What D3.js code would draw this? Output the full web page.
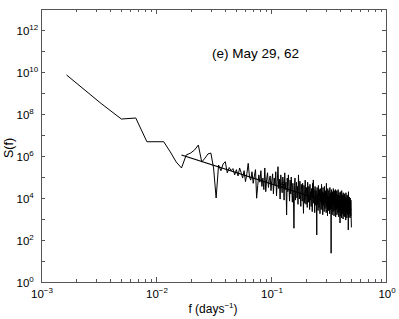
<!DOCTYPE html>
<html>
<head>
<meta charset="utf-8">
<script src="https://cdn.jsdelivr.net/npm/d3@7"></script>
<style>
  body { margin: 0; background: #fff; }
  text { font-family: "Liberation Sans", Arial, sans-serif; fill: #000; }
</style>
</head>
<body>
<svg id="chart" width="399" height="319"></svg>
<script>
// Record length in days, frequencies are k / recordDays
const recordDays = 600

// log10 of the power spectrum S(f), one value per frequency k = 1..300
const logPower = [
  9.86, 8.50, 7.76, 7.81, 6.68, 6.68, 6.68, 6.19, 5.71, 5.43,
  6.05, 6.14, 6.29, 6.52, 5.71, 5.90, 6.10, 6.14, 5.43, 4.00,
  5.57, 5.30, 5.62, 5.73, 5.20, 5.45, 5.30, 5.40, 5.10, 5.35,
  5.05, 5.43, 5.20, 4.95, 5.30, 4.78, 5.15, 5.65, 5.00, 4.85,
  5.25, 4.70, 5.05, 5.35, 3.99, 4.60, 5.10, 4.75, 5.30, 4.55,
  4.95, 4.40, 5.43, 4.30, 4.90, 5.20, 4.50, 4.85, 5.05, 4.35,
  4.85, 5.15, 4.20, 4.95, 4.60, 5.25, 4.10, 4.80, 5.49, 4.45,
  4.90, 3.95, 5.10, 4.60, 4.25, 5.00, 4.70, 3.90, 5.20, 4.40,
  4.75, 3.19, 4.95, 4.30, 5.10, 4.55, 3.85, 4.85, 4.20, 5.00,
  4.35, 3.80, 4.70, 4.10, 2.56, 4.60, 4.95, 3.90, 4.40, 4.75,
  4.00, 4.55, 3.70, 5.10, 4.30, 3.95, 4.80, 4.15, 3.60, 4.65,
  4.35, 3.85, 4.70, 4.05, 3.27, 4.60, 4.20, 3.75, 4.85, 4.10,
  3.70, 4.50, 4.25, 3.55, 4.75, 4.00, 3.80, 4.55, 4.20, 3.45,
  4.65, 3.90, 4.30, 3.60, 4.45, 4.10, 3.35, 4.70, 4.00, 4.86,
  3.75, 4.40, 3.95, 3.30, 4.55, 4.15, 3.65, 4.35, 3.85, 2.24,
  4.50, 3.70, 4.20, 3.40, 4.60, 3.90, 3.55, 4.40, 4.05, 3.25,
  4.45, 3.80, 4.10, 3.45, 4.65, 3.70, 3.95, 4.30, 3.20, 4.50,
  3.65, 4.25, 3.85, 3.35, 4.55, 4.00, 3.50, 4.35, 3.75, 4.15,
  3.30, 4.70, 3.60, 4.20, 3.90, 3.15, 4.45, 3.70, 4.05, 3.40,
  4.35, 3.55, 4.10, 3.25, 4.50, 3.80, 3.45, 4.25, 3.65, 1.37,
  4.40, 3.50, 3.95, 3.20, 4.30, 3.70, 4.15, 3.35, 4.45, 3.60,
  3.90, 3.15, 4.35, 3.75, 3.40, 4.20, 3.55, 4.40, 3.10, 3.85,
  4.25, 3.45, 3.80, 4.35, 3.20, 3.95, 3.60, 4.15, 3.30, 4.40,
  3.50, 3.90, 3.10, 4.25, 3.70, 3.35, 4.10, 3.55, 2.81, 4.30,
  3.45, 3.85, 3.15, 4.20, 3.65, 3.05, 4.35, 3.50, 3.90, 3.25,
  4.15, 3.40, 3.75, 3.00, 4.25, 3.55, 3.80, 3.15, 4.10, 3.45,
  3.70, 4.20, 3.10, 3.85, 3.35, 4.05, 3.55, 2.95, 4.25, 3.60,
  3.30, 4.00, 3.50, 3.05, 4.15, 3.40, 3.75, 3.20, 4.10, 3.55,
  3.85, 2.48, 4.30, 3.45, 3.10, 3.95, 3.60, 3.25, 4.05, 3.40,
  3.70, 3.05, 4.00, 3.35, 3.80, 3.15, 3.90, 3.45, 3.00, 2.60
]

// Power law fit, end points
const fitFreq = [1 / 60, 0.5]
const fitPower = [1.12e6, 2.8e3]

// Tick labels (exponents of 10)
const xTickExp = [-3, -2, -1, 0]
const yTickExp = [0, 2, 4, 6, 8, 10, 12]

const title = '(e) May 29, 62'

let spectrum = logPower.map((v, i) => ({ f: (i + 1) / recordDays, s: Math.pow(10, v) }))
let fitLine = fitFreq.map((f, i) => ({ f: f, s: fitPower[i] }))

const plotLeft = 41, plotRight = 386, plotTop = 9, plotBottom = 282
const axisColor = '#555'

let x = d3.scaleLog().domain([1e-3, 1]).range([plotLeft, plotRight])
let y = d3.scaleLog().domain([1, 1e13]).range([plotBottom, plotTop])

let svg = d3.select('#chart')

// x ticks: decades plus 2..9 minor ticks, on top and bottom
let xMinor = []
for (let e = -3; e < 0; e++) {
  for (let m = 2; m <= 9; m++) xMinor.push(m * Math.pow(10, e))
}
let xMajor = xTickExp.map(e => Math.pow(10, e))
let yMajor = d3.range(0, 14).map(e => Math.pow(10, e))

let ticks = svg.append('g').attr('stroke', axisColor).attr('stroke-width', 1)

xMajor.concat(xMinor).forEach(v => {
  let len = xMajor.includes(v) ? 5 : 3
  let px = Math.round(x(v)) + 0.5
  ticks.append('line').attr('x1', px).attr('x2', px).attr('y1', plotBottom).attr('y2', plotBottom - len)
  ticks.append('line').attr('x1', px).attr('x2', px).attr('y1', plotTop).attr('y2', plotTop + len)
})

yMajor.forEach(v => {
  let py = Math.round(y(v)) + 0.5
  ticks.append('line').attr('x1', plotLeft).attr('x2', plotLeft + 4).attr('y1', py).attr('y2', py)
  ticks.append('line').attr('x1', plotRight).attr('x2', plotRight - 4).attr('y1', py).attr('y2', py)
})

// the data
let line = d3.line().x(d => x(d.f)).y(d => y(d.s))

svg.append('path')
  .datum(spectrum)
  .attr('d', line)
  .attr('fill', 'none')
  .attr('stroke', '#000')
  .attr('stroke-width', 1)
  .attr('stroke-linejoin', 'round')

svg.append('path')
  .datum(fitLine)
  .attr('d', line)
  .attr('fill', 'none')
  .attr('stroke', '#000')
  .attr('stroke-width', 1.2)

// frame
svg.append('rect')
  .attr('x', plotLeft + 0.5).attr('y', plotTop + 0.5)
  .attr('width', plotRight - plotLeft).attr('height', plotBottom - plotTop)
  .attr('fill', 'none')
  .attr('stroke', axisColor)
  .attr('stroke-width', 1)

// tick labels as 10 with superscript
function powerLabel (g, exp) {
  let t = g.append('text').attr('font-size', 11.5)
  t.append('tspan').text('10')
  t.append('tspan').attr('font-size', 8).attr('dy', -5).text(String(exp).replace('-', '\u2212'))
  return t
}

xTickExp.forEach(e => {
  let t = powerLabel(svg, e)
  t.attr('x', x(Math.pow(10, e)) + 1).attr('y', 298).attr('text-anchor', 'middle')
})

// the "10" part of the y labels lines up on the left
yTickExp.forEach(e => {
  let t = powerLabel(svg, e)
  t.attr('x', 16.5).attr('y', y(Math.pow(10, e)) + 4.5)
})

// axis titles
let xTitle = svg.append('text')
  .attr('x', 213).attr('y', 313)
  .attr('text-anchor', 'middle')
  .attr('font-size', 12)
xTitle.append('tspan').text('f (days')
xTitle.append('tspan').attr('font-size', 8).attr('dy', -5).text('\u22121')
xTitle.append('tspan').attr('dy', 5).text(')')

svg.append('text')
  .attr('transform', 'translate(13,148) rotate(-90)')
  .attr('text-anchor', 'middle')
  .attr('font-size', 12.5)
  .text('S(f)')

svg.append('text')
  .attr('x', 212).attr('y', 58)
  .attr('font-size', 13.5)
  .text(title)
</script>
</body>
</html>
